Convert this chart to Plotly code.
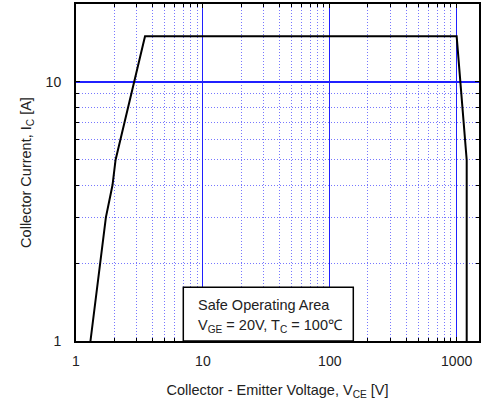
import plotly.graph_objects as go
import numpy as np

# Safe operating area boundary
vce = [1.3, 1.54, 1.72, 1.94, 2.05, 2.24, 3.5, 1000, 1200, 1200]
ic = [1, 2, 3, 4, 5, 6, 15, 15, 5, 1]

x_ticks = [1, 10, 100, 1000]
y_ticks = [1, 10]
x_minor = [m * d for d in [1, 10, 100, 1000] for m in range(2, 10) if m * d < 1500]
y_minor = [m * d for d in [1, 10] for m in range(2, 10) if m * d < 20]

FONT = "Liberation Sans, Arial, sans-serif"

fig = go.Figure()
fig.add_trace(go.Scatter(x=vce, y=ic, mode="lines",
                         line=dict(color="black", width=2), showlegend=False))

axis_common = dict(
    type="log", showline=True, linecolor="black", linewidth=2, mirror="allticks",
    ticks="inside", ticklen=4, tickcolor="black", automargin=False,
    showgrid=True, gridcolor="#2020ff",
    zeroline=False, tickfont=dict(family=FONT, size=14, color="#222"),
)

minor_common = dict(showgrid=True, gridcolor="#7777ff", griddash="1px,2px", gridwidth=1,
                    ticks="inside", ticklen=3, tickcolor="black")

fig.update_xaxes(
    **axis_common, gridwidth=1.2,
    range=[0, np.log10(1500)], tickvals=x_ticks, ticktext=[str(v) for v in x_ticks],
    ticklabelstandoff=6,
    minor=dict(tickvals=x_minor, **minor_common),
    title=dict(text="Collector - Emitter Voltage, V<sub>CE</sub> [V]",
               font=dict(family=FONT, size=14.5, color="#222"), standoff=17),
)
fig.update_yaxes(
    **axis_common, gridwidth=1.6,
    range=[0, np.log10(20)], tickvals=y_ticks, ticktext=[str(v) for v in y_ticks],
    ticklabelstandoff=10,
    minor=dict(tickvals=y_minor, **minor_common),
    title=dict(text="Collector Current, I<sub>C</sub> [A]",
               font=dict(family=FONT, size=14.5, color="#222"), standoff=11),
)

# annotation box
fig.add_shape(type="rect", xref="paper", yref="paper",
              x0=(183.3 - 76) / 403, x1=(353.3 - 76) / 403,
              y0=0, y1=(341 - 287.3) / 337,
              line=dict(color="black", width=1.5), fillcolor="white", layer="above")
fig.add_annotation(xref="paper", yref="paper", x=(196 - 76) / 403, y=(341 - 305) / 337,
                   xanchor="left", yanchor="middle", showarrow=False,
                   text="Safe Operating Area",
                   font=dict(family=FONT, size=14.5, color="#222"))
fig.add_annotation(xref="paper", yref="paper", x=(196 - 76) / 403, y=(341 - 326) / 337,
                   xanchor="left", yanchor="middle", showarrow=False,
                   text="V<sub>GE</sub> = 20V, T<sub>C</sub> = 100℃",
                   font=dict(family=FONT, size=14.5, color="#222"))

fig.update_layout(
    width=482, height=406,
    margin=dict(l=76, r=3, t=4, b=65),
    plot_bgcolor="white", paper_bgcolor="white",
    font=dict(family=FONT, color="#222"),
)

fig.write_html("out.html", config={"displayModeBar": False},
               post_script="document.body.style.margin='0';document.body.style.overflow='hidden';")
